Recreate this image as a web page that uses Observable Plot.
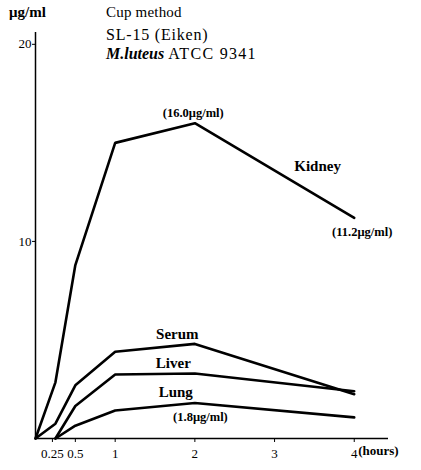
<!DOCTYPE html>
<html>
<head>
<meta charset="utf-8">
<script src="https://cdn.jsdelivr.net/npm/d3@7"></script>
<script src="https://cdn.jsdelivr.net/npm/@observablehq/plot@0.6"></script>
<style>
  html, body { margin: 0; padding: 0; background: white; }
  #wrap { position: relative; width: 421px; height: 470px; font-family: "Liberation Serif", serif; color: black; }
  .hd { position: absolute; white-space: nowrap; }
</style>
</head>
<body>
<div id="wrap">
  <div class="hd" style="left:9px; top:5px; font-size:15px; line-height:15px; font-weight:bold;">μg/ml</div>
  <div class="hd" style="left:106px; top:5px; font-size:15px; line-height:15px; letter-spacing:0.2px;">Cup method</div>
  <div class="hd" style="left:106px; top:27px; font-size:16px; line-height:16px; letter-spacing:0.8px;">SL-15 (Eiken)</div>
  <div class="hd" style="left:106px; top:46px; font-size:16px; line-height:16px;"><b><i>M.luteus</i></b> <span style="letter-spacing:1.3px;">ATCC 9341</span></div>
</div>
<script>
// Data (hours, µg/ml)
const hoursFromZero = [0, 0.25, 0.5, 1, 2, 4];
const hoursFromQuarter = [0.25, 0.5, 1, 2, 4];
const kidney = [0, 2.85, 8.8, 15.0, 16.0, 11.2];
const serum = [0, 0.75, 2.7, 4.4, 4.8, 2.25];
const liver = [0, 1.65, 3.25, 3.3, 2.4];
const lung = [0, 0.65, 1.42, 1.8, 1.07];

const xTicks = [0.25, 0.5, 1, 2, 3, 4];
const yTicks = [10, 20];
const xUnit = "(hours)";

const seriesNames = ["Kidney", "Serum", "Liver", "Lung"];
const seriesLabelX = [3.54, 1.78, 1.73, 1.76];
const seriesLabelY = [13.8, 5.3, 3.8, 2.35];

const valueLabels = ["(16.0μg/ml)", "(11.2μg/ml)", "(1.8μg/ml)"];
const valueLabelX = [1.98, 4.1, 2.07];
const valueLabelY = [16.5, 10.5, 1.07];

const rows = [
  ...hoursFromZero.map((h, i) => ({series: "Kidney", h, v: kidney[i]})),
  ...hoursFromZero.map((h, i) => ({series: "Serum", h, v: serum[i]})),
  ...hoursFromQuarter.map((h, i) => ({series: "Liver", h, v: liver[i]})),
  ...hoursFromQuarter.map((h, i) => ({series: "Lung", h, v: lung[i]}))
];
const nameRows = seriesNames.map((t, i) => ({t, x: seriesLabelX[i], y: seriesLabelY[i]}));
const valueRows = valueLabels.map((t, i) => ({t, x: valueLabelX[i], y: valueLabelY[i]}));

const chart = Plot.plot({
  width: 421,
  height: 470,
  marginLeft: 35,
  marginRight: 33,
  marginTop: 32,
  marginBottom: 32,
  x: {domain: [0, 4.43]},
  y: {domain: [0, 20.6]},
  style: {fontFamily: "'Liberation Serif', serif", fontSize: "13px", color: "black", background: "transparent", overflow: "visible"},
  marks: [
    Plot.axisX({ticks: xTicks.slice(0, 1), tickSize: 4, tickPadding: 6, label: null, fontSize: 13, dx: -3, tickFormat: d => String(d)}),
    Plot.axisX({ticks: xTicks.slice(1), tickSize: 4, tickPadding: 6, label: null, fontSize: 13, tickFormat: d => String(d)}),
    Plot.axisY({ticks: yTicks, tickSize: 3, tickPadding: 1, label: null, fontSize: 13}),
    Plot.text([xTicks[xTicks.length - 1]], {x: d => d, text: () => xUnit, frameAnchor: "bottom", dx: 4, dy: 16, textAnchor: "start", fontWeight: "bold", fontSize: 13}),
    Plot.ruleY([0], {strokeWidth: 1.5}),
    Plot.ruleX([0], {strokeWidth: 1.5}),
    Plot.line(rows, {x: "h", y: "v", z: "series", stroke: "black", strokeWidth: 2.6, strokeLinejoin: "miter"}),
    Plot.text(nameRows, {x: "x", y: "y", text: "t", fontSize: 15, fontWeight: "bold"}),
    Plot.text(valueRows, {x: "x", y: "y", text: "t", fontSize: 12.5, fontWeight: "bold"})
  ]
});
chart.style.position = "absolute";
chart.style.left = "0px";
chart.style.top = "0px";
document.getElementById("wrap").prepend(chart);
</script>
</body>
</html>
